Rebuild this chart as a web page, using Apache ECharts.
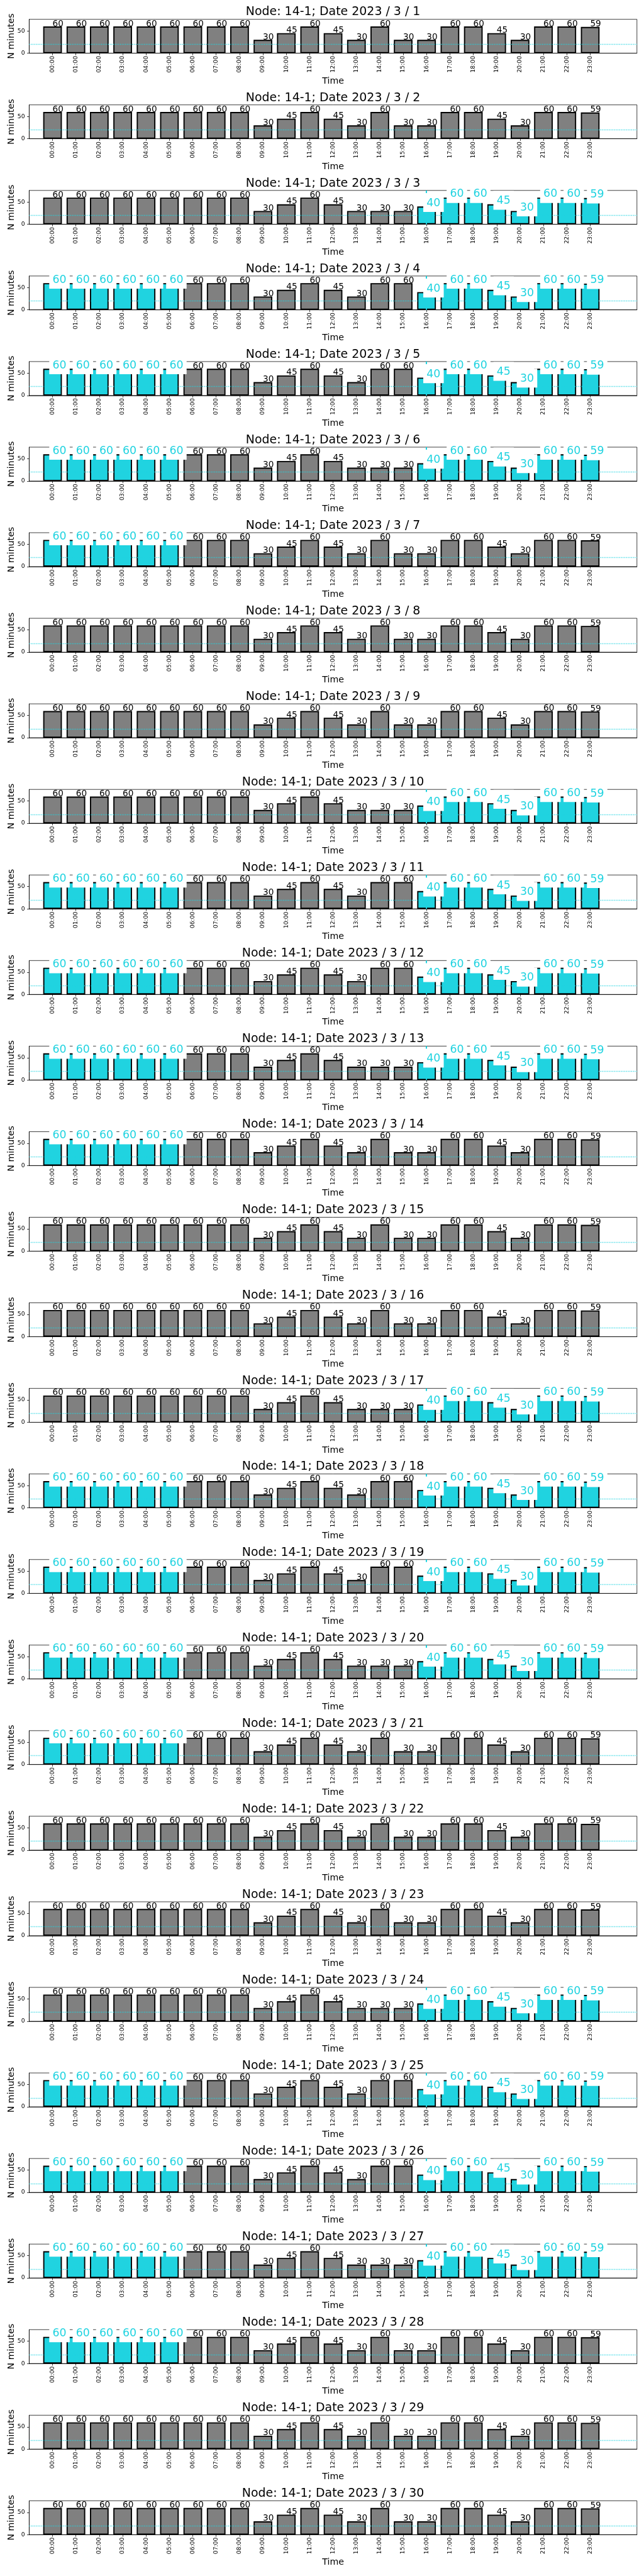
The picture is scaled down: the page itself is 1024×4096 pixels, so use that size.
<!DOCTYPE html>
<html>
<head>
<meta charset="utf-8">
<script src="https://cdn.jsdelivr.net/npm/echarts@6/dist/echarts.min.js"></script>
<style>
html,body{margin:0;padding:0;background:#fff;}
#c{width:1024px;height:4096px;}
</style>
</head>
<body>
<div id="c"></div>
<script>
// ---------------- data ----------------
const hourLabels = ['00:00','01:00','02:00','03:00','04:00','05:00','06:00','07:00','08:00','09:00','10:00','11:00',
                    '12:00','13:00','14:00','15:00','16:00','17:00','18:00','19:00','20:00','21:00','22:00','23:00'];
const profileA = [60,60,60,60,60,60,60,60,60,30,45,60,45,30,60,30,30,60,60,45,30,60,60,59];
const profileB = [60,60,60,60,60,60,60,60,60,30,45,60,45,30,30,30,40,60,60,45,30,60,60,59];
const profileC = [60,60,60,60,60,60,60,60,60,30,45,60,45,30,60,60,40,60,60,45,30,60,60,59];
const dayNumbers = [1,2,3,4,5,6,7,8,9,10,11,12,13,14,15,16,17,18,19,20,21,22,23,24,25,26,27,28,29,30];
const dayProfile = ['A','A','B','C','C','B','A','A','A','B','C','C','B','A','A',
                    'A','B','C','C','B','A','A','A','B','C','C','B','A','A','A'];
const morningDays = [4,5,6,7,11,12,13,14,18,19,20,21,25,26,27,28];
const eveningDays = [3,4,5,6,10,11,12,13,17,18,19,20,24,25,26,27];
const morningHours = [0,1,2,3,4,5];
const eveningHours = [16,17,18,19,20,21,22,23];
const yTickValues = [0,50];
const refLineValue = 20;
const markHour = 16;
const nodeName = '14-1';
const yearMonth = '2023 / 3';

// ---------------- layout / style ----------------
const K = 0.682;
const FONT = 'DejaVu Sans';
const CYAN = '#20d3e0';
const GRAY = '#808080';
const AX_LEFT = 68, AX_RIGHT = 1485, FIRST_BOTTOM = 124, PITCH = 199.5, AX_H = 79;
const AX_W = AX_RIGHT - AX_LEFT;
const X_MIN = -1, X_MAX = 25, Y_MAX = 76;
const unitPx = AX_W * K / (X_MAX - X_MIN);
const barW = 0.8 * unitPx;
const Fb = 20 * K;     // black value labels
const Fc = 25.5 * K;   // highlighted labels
const Ft = 27.8 * K;   // titles
const Fn = 20.8 * K;   // axis names
const Fk = 13.5 * K;   // tick labels
const tickHours = hourLabels.map((_, h) => h);
const profiles = {A: profileA, B: profileB, C: profileC};

const grids = [], xAxes = [], yAxes = [], series = [], titles = [];

dayNumbers.forEach((day, i) => {
  const axBottom = FIRST_BOTTOM + i * PITCH;
  const axTop = axBottom - AX_H;
  const values = profiles[dayProfile[i]];
  const hlM = morningDays.indexOf(day) >= 0;
  const hlE = eveningDays.indexOf(day) >= 0;
  const isHL = h => (hlM && morningHours.indexOf(h) >= 0) || (hlE && eveningHours.indexOf(h) >= 0);

  grids.push({left: AX_LEFT * K, top: axTop * K, width: AX_W * K, height: AX_H * K,
              show: true, borderColor: '#000', borderWidth: 1.1 * K, backgroundColor: 'rgba(0,0,0,0)'});

  titles.push({text: 'Node: ' + nodeName + '; Date ' + yearMonth + ' / ' + day,
               left: (AX_LEFT + AX_W / 2) * K, top: (axTop - 30.2) * K, textAlign: 'center', padding: 0,
               textStyle: {fontFamily: FONT, fontSize: Ft, lineHeight: Ft, fontWeight: 'normal', color: '#000'}});

  xAxes.push({gridIndex: i, type: 'value', min: X_MIN, max: X_MAX, interval: 1,
    axisLine: {show: true, onZero: false, lineStyle: {color: '#000', width: 1.1 * K}},
    axisTick: {show: true, length: 4.9 * K, lineStyle: {color: '#000', width: 1.1 * K}, customValues: tickHours},
    axisLabel: {show: true, customValues: tickHours, rotate: 90, margin: 6.5 * K, fontSize: Fk, fontFamily: FONT,
                color: '#000', formatter: v => hourLabels[v]},
    splitLine: {show: false},
    name: 'Time', nameLocation: 'middle', nameGap: 54.7 * K,
    nameTextStyle: {fontFamily: FONT, fontSize: Fn, color: '#000'}});

  yAxes.push({gridIndex: i, type: 'value', min: 0, max: Y_MAX,
    axisLine: {show: true, onZero: false, lineStyle: {color: '#000', width: 1.1 * K}},
    axisTick: {show: true, length: 4.9 * K, lineStyle: {color: '#000', width: 1.1 * K}, customValues: yTickValues},
    axisLabel: {show: true, customValues: yTickValues, margin: 10 * K, fontSize: Fk, fontFamily: FONT, color: '#000'},
    splitLine: {show: false},
    name: 'N minutes', nameLocation: 'middle', nameRotate: 90, nameGap: 31.3 * K, nameMoveOverlap: false,
    nameTextStyle: {fontFamily: FONT, fontSize: Fn, color: '#000'}});

  const markData = [{yAxis: refLineValue, lineStyle: {color: CYAN, type: [1.6 * K, 2.4 * K], width: 2 * K}}];
  if (hlE) markData.push({xAxis: markHour, lineStyle: {color: CYAN, type: 'solid', width: 3 * K}});

  series.push({type: 'bar', xAxisIndex: i, yAxisIndex: i, barWidth: barW, barGap: '-100%', z: 2, silent: true,
    itemStyle: {borderColor: '#000', borderWidth: 2.78 * K},
    data: values.map((v, h) => ({value: [h, v], itemStyle: {color: isHL(h) ? CYAN : GRAY}})),
    markLine: {z: 3, silent: true, symbol: 'none', label: {show: false}, animation: false, data: markData}});

  const blackLabel = {show: true, position: ['50%', 0], offset: [0, 0.203 * Fb], align: 'left', verticalAlign: 'bottom',
                      fontFamily: FONT, fontSize: Fb, lineHeight: Fb, color: '#000'};
  const cyanLabel = {show: true, position: ['50%', 0], offset: [-0.3 * Fc, 0.5 * Fc], align: 'left', verticalAlign: 'bottom',
                     fontFamily: FONT, fontSize: Fc, lineHeight: Fc, color: CYAN, backgroundColor: '#fff',
                     padding: [0.431 * Fc, 0.3 * Fc, 0.3 * Fc, 0.3 * Fc]};
  series.push({type: 'bar', xAxisIndex: i, yAxisIndex: i, barWidth: barW, barGap: '-100%', z: 4, silent: true,
    itemStyle: {color: 'rgba(0,0,0,0)', borderWidth: 0},
    label: {formatter: p => String(p.value[1])},
    data: values.map((v, h) => ({value: [h, v], label: isHL(h) ? cyanLabel : blackLabel}))});
});

const chart = echarts.init(document.getElementById('c'), null, {renderer: 'canvas', width: 1024, height: 4096});
chart.setOption({animation: false, backgroundColor: '#fff', title: titles, grid: grids, xAxis: xAxes, yAxis: yAxes, series: series});
</script>
</body>
</html>
